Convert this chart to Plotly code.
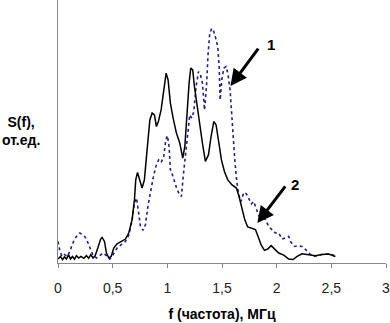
import plotly.graph_objects as go

# Curve 2 (solid black)
f2 = [0.00, 0.023, 0.041, 0.059, 0.078, 0.096, 0.114, 0.132, 0.151, 0.169, 0.19, 0.21, 0.236, 0.26, 0.28, 0.30, 0.32, 0.34,
      0.364, 0.39, 0.404, 0.425, 0.443, 0.465, 0.486, 0.51, 0.54, 0.578, 0.617, 0.647, 0.678, 0.699, 0.711, 0.727, 0.748,
      0.769, 0.79, 0.815, 0.84, 0.861, 0.882, 0.90, 0.918, 0.943, 0.967, 0.989, 1.007, 1.028, 1.053, 1.083, 1.114, 1.141,
      1.16, 1.18, 1.199, 1.214, 1.232, 1.248, 1.272, 1.296, 1.321, 1.348, 1.376, 1.4, 1.425, 1.446, 1.47, 1.495, 1.522,
      1.553, 1.592, 1.632, 1.656, 1.68, 1.708, 1.735, 1.775, 1.806, 1.83, 1.857, 1.888, 1.918, 1.949, 1.98, 2.019, 2.065,
      2.11, 2.15, 2.187, 2.232, 2.293, 2.354, 2.415, 2.476, 2.537]
s2 = [0.015, 0.025, 0.013, 0.023, 0.015, 0.032, 0.015, 0.025, 0.015, 0.028, 0.019, 0.025, 0.018, 0.028, 0.018, 0.032, 0.019, 0.028,
      0.057, 0.091, 0.097, 0.082, 0.038, 0.019, 0.025, 0.057, 0.073, 0.082, 0.091, 0.114, 0.165, 0.24, 0.316, 0.344, 0.316,
      0.285, 0.316, 0.418, 0.544, 0.57, 0.563, 0.519, 0.538, 0.582, 0.646, 0.722, 0.696, 0.608, 0.551, 0.494, 0.456, 0.399,
      0.443, 0.582, 0.684, 0.741, 0.734, 0.671, 0.595, 0.519, 0.456, 0.386, 0.411, 0.481, 0.538, 0.525, 0.456, 0.392, 0.348,
      0.316, 0.297, 0.285, 0.253, 0.209, 0.165, 0.137, 0.133, 0.127, 0.101, 0.07, 0.048, 0.053, 0.066, 0.053, 0.038, 0.03,
      0.015, 0.013, 0.025, 0.035, 0.032, 0.028, 0.032, 0.034, 0.025]

# Curve 1 (dotted navy)
f1 = [0.0, 0.018, 0.038, 0.059, 0.084, 0.108, 0.13, 0.151, 0.175, 0.2, 0.224, 0.248, 0.273, 0.297, 0.321, 0.352, 0.382, 0.413,
      0.443, 0.474, 0.504, 0.54, 0.578, 0.617, 0.65, 0.678, 0.699, 0.718, 0.736, 0.754, 0.779, 0.8, 0.822, 0.846, 0.87,
      0.895, 0.92, 0.943, 0.967, 0.986, 1.001, 1.016, 1.028, 1.047, 1.065, 1.09, 1.114, 1.129, 1.145, 1.166, 1.187, 1.205,
      1.224, 1.242, 1.263, 1.285, 1.303, 1.321, 1.34, 1.358, 1.373, 1.388, 1.406, 1.425, 1.443, 1.461, 1.474, 1.483, 1.498,
      1.516, 1.538, 1.556, 1.574, 1.595, 1.617, 1.635, 1.653, 1.674, 1.699, 1.723, 1.747, 1.769, 1.79, 1.812, 1.836, 1.866,
      1.897, 1.927, 1.958, 1.988, 2.019, 2.05, 2.08, 2.11, 2.132, 2.163, 2.202, 2.242, 2.272, 2.303, 2.34, 2.386, 2.43,
      2.49, 2.55]
s1 = [0.082, 0.044, 0.025, 0.032, 0.025, 0.044, 0.07, 0.091, 0.104, 0.114, 0.108, 0.099, 0.078, 0.053, 0.028, 0.019, 0.028, 0.038,
      0.028, 0.015, 0.032, 0.057, 0.07, 0.082, 0.108, 0.165, 0.228, 0.247, 0.196, 0.139, 0.124, 0.146, 0.215, 0.278, 0.323,
      0.367, 0.392, 0.382, 0.405, 0.468, 0.484, 0.443, 0.354, 0.335, 0.31, 0.278, 0.259, 0.253, 0.329, 0.418, 0.506, 0.563,
      0.551, 0.576, 0.671, 0.728, 0.715, 0.684, 0.582, 0.671, 0.797, 0.873, 0.892, 0.88, 0.854, 0.823, 0.747, 0.62, 0.696,
      0.741, 0.747, 0.715, 0.658, 0.519, 0.392, 0.31, 0.259, 0.234, 0.268, 0.263, 0.24, 0.225, 0.234, 0.209, 0.18, 0.171,
      0.165, 0.139, 0.127, 0.114, 0.114, 0.091, 0.095, 0.101, 0.078, 0.063, 0.066, 0.061, 0.048, 0.035, 0.025, 0.029, 0.034,
      0.034, 0.025]

tick_vals = [0, 0.5, 1, 1.5, 2, 2.5, 3]
tick_text = ["0", "0,5", "1", "1,5", "2", "2,5", "3"]

# annotations: (label, label_x, label_y, tail_x, tail_y, tip_x, tip_y)
arrows = [
    ("1", 1.95, 0.829, 1.842, 0.821, 1.577, 0.673),
    ("2", 2.17, 0.300, 2.089, 0.297, 1.823, 0.152),
]

FONT = "Liberation Sans, Arial, sans-serif"
W, H = 390, 323
ML, MR, MT, MB = 58, 4, 0, 60

fig = go.Figure()
fig.add_trace(go.Scatter(x=f1, y=s1, mode="lines",
                         line=dict(color="#202088", width=1.6, dash="3px,3px"), name="1"))
fig.add_trace(go.Scatter(x=f2, y=s2, mode="lines",
                         line=dict(color="black", width=1.5), name="2"))

anns = []
for lab, lx, ly, tx, ty, hx, hy in arrows:
    anns.append(dict(x=hx, y=hy, ax=tx, ay=ty, axref="x", ayref="y", xref="x", yref="y",
                     text="", showarrow=True, arrowhead=2, arrowsize=1.1, arrowwidth=3,
                     arrowcolor="black"))
    anns.append(dict(x=lx, y=ly, xref="x", yref="y", text="<b>%s</b>" % lab, showarrow=False,
                     font=dict(family=FONT, size=15, color="black"), xanchor="center", yanchor="middle"))

# y title placed at pixel position (21, 131)
anns.append(dict(x=(21 - ML) / (W - ML - MR), y=(H - MB - 131) / (H - MB - MT), xref="paper", yref="paper",
                 text="<b>S(f),<br>от.ед.</b>", showarrow=False, xanchor="center", yanchor="middle",
                 font=dict(family=FONT, size=14, color="black")))

fig.update_layout(
    width=W, height=H,
    margin=dict(l=ML, r=MR, t=MT, b=MB),
    paper_bgcolor="white", plot_bgcolor="white",
    showlegend=False,
    font=dict(family=FONT, size=12, color="black"),
    xaxis=dict(range=[0, 3], tickvals=tick_vals, ticktext=tick_text, showgrid=False, zeroline=False,
               showline=True, linecolor="#888", linewidth=1, ticks="outside", ticklen=4, tickcolor="#888",
               automargin=False, ticklabelstandoff=8, ticklabeloverflow="allow",
               tickfont=dict(family=FONT, size=14, color="#222"),
               title=dict(text="<b>f (частота), МГц</b>", font=dict(family=FONT, size=14, color="black"), standoff=14)),
    yaxis=dict(range=[0, 1], showgrid=False, zeroline=False, showline=True, linecolor="#888", linewidth=1,
               showticklabels=False, ticks="", automargin=False),
    annotations=anns,
)

fig.write_html("out.html", config={"displayModeBar": False},
               post_script="document.body.style.margin='0';document.body.style.overflow='hidden';")
